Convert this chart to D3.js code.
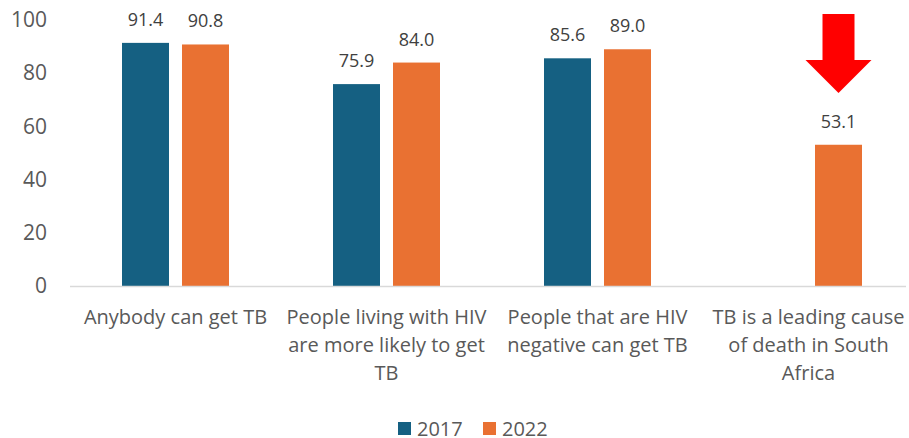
<!DOCTYPE html>
<html>
<head>
<meta charset="utf-8">
<script src="https://cdn.jsdelivr.net/npm/d3@7"></script>
<style>
  body { margin: 0; background: #fff; }
  #vis { width: 909px; height: 438px; }
  text { font-family: "Open Sans", sans-serif; }
</style>
</head>
<body>
<div id="vis"></div>
<script>
var categories = [
  ['Anybody can get TB'],
  ['People living with HIV', 'are more likely to get', 'TB'],
  ['People that are HIV', 'negative can get TB'],
  ['TB is a leading cause', 'of death in South', 'Africa']
];
var years = ['2017', '2022'];
var values2017 = [91.4, 75.9, 85.6, null];
var values2022 = [90.8, 84.0, 89.0, 53.1];
var yTicks = [0, 20, 40, 60, 80, 100];

var colours = { '2017': '#156082', '2022': '#E97132' };

var width = 909, height = 438;
var margin = { top: 20, bottom: 152, left: 70, right: -5 };

var svg = d3.select('#vis')
  .append('svg')
  .attr('width', width)
  .attr('height', height);

var x_scale = d3.scaleBand()
  .domain(d3.range(categories.length))
  .range([margin.left, width - margin.right]);

var y_scale = d3.scaleLinear()
  .domain([0, 100])
  .range([height - margin.bottom, margin.top]);

var barW = 47, barGap = 13;
var groupW = barW * 2 + barGap;

var series = [
  { year: '2017', values: values2017 },
  { year: '2022', values: values2022 }
];

// y axis labels only, no gridlines
var y_axis = d3.axisLeft(y_scale).tickValues(yTicks).tickSize(0).tickPadding(0);
svg.append('g')
  .attr('transform', 'translate(47,0)')
  .call(y_axis)
  .call(function(g) { g.select('.domain').remove(); })
  .selectAll('text')
  .attr('fill', '#595959')
  .style('font-size', '21px');

// bars
series.forEach(function(s, si) {
  var rows = s.values.map(function(v, i) { return { i: i, v: v }; })
    .filter(function(d) { return d.v != null; });
  var xOff = function(i) {
    return x_scale(i) + (x_scale.bandwidth() - groupW) / 2 + si * (barW + barGap);
  };
  svg.selectAll('.bar-' + s.year)
    .data(rows)
    .enter()
    .append('rect')
    .attr('class', 'bar-' + s.year)
    .attr('x', function(d) { return xOff(d.i); })
    .attr('width', barW)
    .attr('y', function(d) { return y_scale(d.v); })
    .attr('height', function(d) { return y_scale(0) - y_scale(d.v); })
    .attr('fill', colours[s.year]);

  svg.selectAll('.lbl-' + s.year)
    .data(rows)
    .enter()
    .append('text')
    .attr('x', function(d) { return xOff(d.i) + barW / 2; })
    .attr('y', function(d) { return y_scale(d.v) - 17; })
    .attr('text-anchor', 'middle')
    .attr('fill', '#404040')
    .style('font-size', '18px')
    .text(function(d) { return d.v.toFixed(1); });
});

// baseline
svg.append('line')
  .attr('x1', margin.left)
  .attr('x2', 906)
  .attr('y1', y_scale(0) + 0.5)
  .attr('y2', y_scale(0) + 0.5)
  .attr('stroke', '#d9d9d9')
  .attr('stroke-width', 1.5);

// category labels
var catG = svg.selectAll('.cat')
  .data(categories)
  .enter()
  .append('text')
  .attr('class', 'cat')
  .attr('text-anchor', 'middle')
  .attr('fill', '#595959')
  .style('font-size', '20px')
  .attr('transform', function(d, i) {
    return 'translate(' + (x_scale(i) + x_scale.bandwidth() / 2) + ',' + (y_scale(0) + 38) + ')';
  });
catG.selectAll('tspan')
  .data(function(d) { return d; })
  .enter()
  .append('tspan')
  .attr('x', 0)
  .attr('dy', function(d, j) { return j === 0 ? 0 : 28; })
  .text(function(d) { return d; });

// red arrow pointing down at the 2022 bar of the last category
var last = categories.length - 1;
var ax = x_scale(last) + (x_scale.bandwidth() - groupW) / 2 + barW + barGap + barW / 2;
var arrow = d3.path();
arrow.moveTo(ax - 16, 14);
arrow.lineTo(ax + 16, 14);
arrow.lineTo(ax + 16, 60);
arrow.lineTo(ax + 33, 60);
arrow.lineTo(ax, 93);
arrow.lineTo(ax - 33, 60);
arrow.lineTo(ax - 16, 60);
arrow.closePath();
svg.append('path')
  .attr('d', arrow.toString())
  .attr('fill', '#FF0000');

// legend
var legend = svg.append('g').attr('transform', 'translate(398,422)');
var legItems = legend.selectAll('g')
  .data(years)
  .enter()
  .append('g')
  .attr('transform', function(d, i) { return 'translate(' + (i * 85) + ',0)'; });
legItems.append('rect')
  .attr('width', 13)
  .attr('height', 13)
  .attr('fill', function(d) { return colours[d]; });
legItems.append('text')
  .attr('x', 19)
  .attr('y', 6.5)
  .attr('dy', '0.35em')
  .attr('fill', '#595959')
  .style('font-size', '20px')
  .text(function(d) { return d; });
</script>
</body>
</html>
